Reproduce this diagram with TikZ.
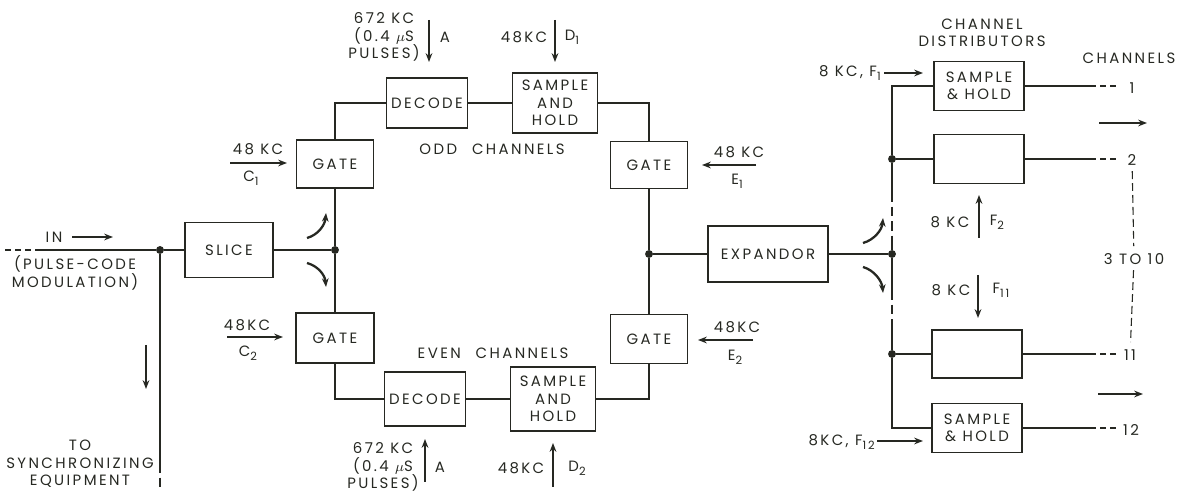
\documentclass[tikz,border=0pt]{standalone}
\usepackage{fontspec}
\setmainfont{Poppins}[LetterSpace=16]
\usetikzlibrary{arrows.meta}
\definecolor{ink}{RGB}{38,40,34}
\newcommand\lowidx[1]{\raisebox{-0.5ex}{\fontsize{6.5}{7}\selectfont #1}}

\begin{document}
\begin{tikzpicture}[x=0.02cm, y=-0.02cm, color=ink, font=\fontsize{8.5}{10}\selectfont,
	blk/.style 2 args={draw, line width=0.6pt, inner sep=0pt, align=center, minimum width=#1*0.02cm, minimum height=#2*0.02cm},
	wire/.style={line width=1.3pt},
	feed/.style={line width=1pt, -{Stealth[length=5pt, width=3.8pt]}},
	curl/.style={line width=1.3pt, -{Stealth[length=5pt, width=3.8pt]}},
	dot/.style={circle, fill, inner sep=0pt, minimum size=4.5pt},
	lbl/.style={inner sep=0pt, align=center},
	brk/.style={line width=1.3pt, dash pattern=on 5.5pt off 2.8pt},
	tail/.style={line width=1.3pt, dash pattern=on 3.4pt off 2.3pt},
	skip/.style={line width=0.6pt, dash pattern=on 4.5pt off 2.3pt, shorten <=3pt, shorten >=4pt}]
	\useasboundingbox (0,0) rectangle (1183,492);
	\node[blk={88}{55}] (slice) at (229,250) {SLICE};
	\node[blk={77}{48}] (gateC1) at (335,164) {GATE};
	\node[blk={78}{50}] (gateC2) at (335,338) {GATE};
	\node[blk={81}{50}] (decodeA) at (427,103) {DECODE};
	\node[blk={85}{60}] (holdD1) at (555,103) {SAMPLE\\AND\\HOLD};
	\node[blk={77}{47}] (gateE1) at (649,165) {GATE};
	\node[blk={77}{49}] (gateE2) at (649,339) {GATE};
	\node[blk={81}{54}] (decodeB) at (425,399) {DECODE};
	\node[blk={85}{64}] (holdD2) at (553,399) {SAMPLE\\AND\\HOLD};
	\node[blk={120}{56}] (expandor) at (768,254) {EXPANDOR};
	\node[blk={90}{49}] (dist1) at (979,86) {SAMPLE\\\& HOLD};
	\node[blk={90}{49}] (dist2) at (979,159) {};
	\node[blk={90}{48}] (dist11) at (977,354) {};
	\node[blk={90}{49}] (dist12) at (977,428) {SAMPLE\\\& HOLD};

	\node[dot] (jIn) at (160,250) {};
	\node[dot] (jSplit) at (335,250) {};
	\node[dot] (jJoin) at (649,254) {};
	\node[dot] (jBus) at (892,254) {};
	\node[dot] (jF2) at (892,159) {};
	\node[dot] (jF11) at (892,354) {};

	\coordinate (inA) at (5,250); \coordinate (inB) at (36,250);
	\coordinate (syncA) at (160,463); \coordinate (syncB) at (160,492);
	\coordinate (busA) at (892,192); \coordinate (busB) at (892,238);
	\coordinate (busC) at (892,290); \coordinate (busD) at (892,327);
	\coordinate (o1) at (1090,86); \coordinate (e1) at (1118,86);
	\coordinate (o2) at (1090,159); \coordinate (e2) at (1118,159);
	\coordinate (o11) at (1090,354); \coordinate (e11) at (1118,354);
	\coordinate (o12) at (1090,428); \coordinate (e12) at (1118,428);

	\draw[tail] (inA) -- (inB);
	\draw[wire] (inB) -- (jIn) -- (slice) -- (jSplit);
	\draw[wire] (jIn) -- (syncA);
	\draw[brk] (syncA) -- (syncB);
	\draw[wire] (gateC1) -- (jSplit) -- (gateC2);
	\draw[wire] (gateC1) |- (decodeA) -- (holdD1) -| (gateE1) -- (jJoin) -- (gateE2);
	\draw[wire] (gateC2) |- (decodeB) -- (holdD2) -| (gateE2);
	\draw[wire] (jJoin) -- (expandor) -- (jBus);
	\draw[wire] (dist1) -| (jF2) -- (busA);
	\draw[brk] (busA) -- (busB);
	\draw[wire] (busB) -- (jBus) -- (busC);
	\draw[brk] (busC) -- (busD);
	\draw[wire] (busD) -- (jF11) |- (dist12);
	\draw[wire] (jF2) -- (dist2);
	\draw[wire] (jF11) -- (dist11);
	\draw[wire] (dist1) -- (o1); \draw[tail] (o1) -- (e1);
	\draw[wire] (dist2) -- (o2); \draw[tail] (o2) -- (e2);
	\draw[wire] (dist11) -- (o11); \draw[tail] (o11) -- (e11);
	\draw[wire] (dist12) -- (o12); \draw[tail] (o12) -- (e12);

	\node[lbl] (ch1) at (1132,88) {1};
	\node[lbl] (ch2) at (1132,160) {2};
	\node[lbl] (range) at (1134,259) {3 TO 10};
	\node[lbl] (ch11) at (1130,355) {11};
	\node[lbl] (ch12) at (1131,430) {12};
	\draw[skip] (ch2) -- (range);
	\draw[skip] (range) -- (ch11);
	\node[lbl] (chanTitle) at (1129,58) {CHANNELS};
	\node[lbl] (distTitle) at (982,33) {CHANNEL\\DISTRIBUTORS};
	\node[lbl] (odd) at (492,149) {ODD\quad CHANNELS};
	\node[lbl] (even) at (493,353) {EVEN\quad CHANNELS};
	\node[lbl] (inTag) at (54,237) {IN};
	\node[lbl] (pcm) at (75,273) {(PULSE-CODE\\MODULATION)};
	\node[lbl] (sync) at (80,464) {TO\\SYNCHRONIZING\\EQUIPMENT};

	\node[lbl] (kcC1) at (258,149) {48 KC}; \node[lbl] (tagC1) at (251,178) {C\lowidx{1}};
	\node[lbl] (kcC2) at (247,325) {48KC}; \node[lbl] (tagC2) at (248,353) {C\lowidx{2}};
	\node[lbl] (kcE1) at (739,152) {48 KC}; \node[lbl] (tagE1) at (737,181) {E\lowidx{1}};
	\node[lbl] (kcE2) at (737,327) {48KC}; \node[lbl] (tagE2) at (735,357) {E\lowidx{2}};
	\node[lbl] (pulseA1) at (384,37) {672 KC\\(0.4 $\mu$S\\PULSES)}; \node[lbl] (tagA1) at (445,37) {A};
	\node[lbl] (kcD1) at (524,37) {48KC}; \node[lbl] (tagD1) at (572,37) {D\lowidx{1}};
	\node[lbl] (pulseA2) at (383,467) {672 KC\\(0.4 $\mu$S\\PULSES)}; \node[lbl] (tagA2) at (440,467) {A};
	\node[lbl] (kcD2) at (521,468) {48KC}; \node[lbl] (tagD2) at (577,468) {D\lowidx{2}};
	\node[lbl, anchor=east] (kcF1) at (881,73) {8 KC, F\lowidx{1}};
	\node[lbl] (kcF2) at (950,222) {8 KC}; \node[lbl] (tagF2) at (997,222) {F\lowidx{2}};
	\node[lbl] (kcF11) at (951,290) {8 KC}; \node[lbl] (tagF11) at (1001,290) {F\lowidx{11}};
	\node[lbl, anchor=east] (kcF12) at (875,442) {8KC, F\lowidx{12}};

	\coordinate (inArrA) at (72,237); \coordinate (inArrB) at (113,237);
	\coordinate (syncArrA) at (146,345); \coordinate (syncArrB) at (146,389);
	\coordinate (c1A) at (230,163); \coordinate (c1B) at (287,163);
	\coordinate (c2A) at (227,337); \coordinate (c2B) at (283,337);
	\coordinate (e1A) at (756,165); \coordinate (e1B) at (702,165);
	\coordinate (e2A) at (753,340); \coordinate (e2B) at (698,340);
	\coordinate (a1A) at (429,20); \coordinate (a1B) at (429,62);
	\coordinate (d1A) at (555,20); \coordinate (d1B) at (555,62);
	\coordinate (a2A) at (425,482); \coordinate (a2B) at (425,439);
	\coordinate (d2A) at (553,487); \coordinate (d2B) at (553,443);
	\coordinate (f1A) at (884,73); \coordinate (f1B) at (923,73);
	\coordinate (f2A) at (979,238); \coordinate (f2B) at (979,195);
	\coordinate (f11A) at (978,275); \coordinate (f11B) at (978,318);
	\coordinate (f12A) at (877,441); \coordinate (f12B) at (923,441);
	\coordinate (outA) at (1099,123); \coordinate (outB) at (1147,123);
	\coordinate (outC) at (1098,394); \coordinate (outD) at (1143,394);
	\draw[feed] (inArrA) -- (inArrB);
	\draw[feed] (syncArrA) -- (syncArrB);
	\draw[feed] (c1A) -- (c1B);
	\draw[feed] (c2A) -- (c2B);
	\draw[feed] (e1A) -- (e1B);
	\draw[feed] (e2A) -- (e2B);
	\draw[feed] (a1A) -- (a1B);
	\draw[feed] (d1A) -- (d1B);
	\draw[feed] (a2A) -- (a2B);
	\draw[feed] (d2A) -- (d2B);
	\draw[feed] (f1A) -- (f1B);
	\draw[feed] (f2A) -- (f2B);
	\draw[feed] (f11A) -- (f11B);
	\draw[feed] (f12A) -- (f12B);
	\draw[curl] (outA) -- (outB);
	\draw[curl] (outC) -- (outD);

	\coordinate (upL) at (307,238); \coordinate (upLtip) at (326,213);
	\coordinate (dnL) at (307,263); \coordinate (dnLtip) at (326,287);
	\coordinate (upR) at (863,243); \coordinate (upRtip) at (883,218);
	\coordinate (dnR) at (863,267); \coordinate (dnRtip) at (883,293);
	\draw[curl] (upL) .. controls +(11,-3) and +(-1,12) .. (upLtip);
	\draw[curl] (dnL) .. controls +(11,3) and +(-1,-12) .. (dnLtip);
	\draw[curl] (upR) .. controls +(11,-3) and +(-1,12) .. (upRtip);
	\draw[curl] (dnR) .. controls +(11,3) and +(-1,-12) .. (dnRtip);
\end{tikzpicture}
\end{document}
